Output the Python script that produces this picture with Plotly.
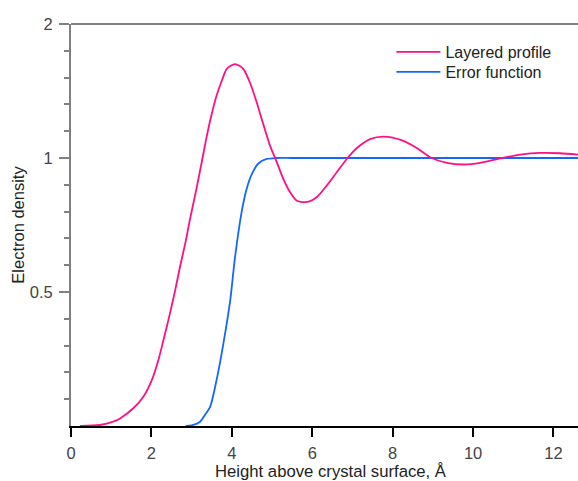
import numpy as np
import plotly.graph_objects as go

# Layered profile
layered_x = [0.22, 0.72, 1.05, 1.22, 1.55, 1.80, 2.01, 2.17, 2.30, 2.46, 2.59, 2.71, 2.84,
             2.96, 3.13, 3.25, 3.38, 3.50, 3.62, 3.75, 3.87, 3.97, 4.08, 4.19, 4.29, 4.45,
             4.62, 4.78, 4.95, 5.12, 5.28, 5.45, 5.61, 5.82, 5.95, 6.11, 6.36, 6.61, 6.86,
             7.11, 7.44, 7.77, 8.20, 8.60, 8.93, 9.35, 9.76, 10.18, 10.68, 11.18, 11.67,
             12.16, 12.61]
layered_y = [0.25, 0.2513, 0.2556, 0.260, 0.274, 0.291, 0.317, 0.351, 0.390, 0.447, 0.504,
             0.569, 0.642, 0.729, 0.861, 0.978, 1.123, 1.256, 1.380, 1.491, 1.584, 1.611,
             1.625, 1.611, 1.584, 1.478, 1.333, 1.193, 1.066, 0.978, 0.898, 0.838, 0.803,
             0.796, 0.800, 0.816, 0.867, 0.929, 0.995, 1.053, 1.103, 1.117, 1.098, 1.053,
             1.004, 0.975, 0.967, 0.975, 0.998, 1.018, 1.027, 1.025, 1.018]

# Error function profile
erf_x = [2.85, 3.0, 3.21, 3.33, 3.46, 3.62, 3.79, 3.96, 4.08, 4.25, 4.37, 4.50, 4.66, 4.87,
         5.12, 5.5, 12.61]
erf_y = [0.25, 0.2508, 0.2556, 0.2646, 0.276, 0.317, 0.383, 0.479, 0.599, 0.762, 0.853,
         0.921, 0.972, 0.995, 1.0, 1.0, 1.0]

y_tickvals = [0.5, 1, 2]
y_ticktext = ["0.5", "1", "2"]
x_tickvals = [0, 2, 4, 6, 8, 10, 12]

PINK = "#FF0F87"
BLUE = "#1466FF"
FONT = "Liberation Sans, Arial, sans-serif"

minor_vals = [2 * 2 ** (-k / 5) for k in range(1, 15) if k % 5 != 0]

fig = go.Figure()
fig.add_trace(go.Scatter(x=erf_x, y=erf_y, mode="lines", name="Error function",
                         line=dict(color=BLUE, width=1.8, shape="spline", smoothing=0.8),
                         legend="legend2"))
fig.add_trace(go.Scatter(x=layered_x, y=layered_y, mode="lines", name="Layered profile",
                         line=dict(color=PINK, width=1.8, shape="spline", smoothing=0.8),
                         legend="legend"))

leg_common = dict(xanchor="left", yanchor="top", bgcolor="rgba(0,0,0,0)",
                  font=dict(size=16, color="#222222"), itemwidth=44)

fig.update_layout(
    width=578, height=481,
    margin=dict(l=71, r=0, t=24, b=55),
    paper_bgcolor="white", plot_bgcolor="white",
    font=dict(family=FONT, size=16, color="#333333"),
    showlegend=True,
    legend=dict(x=0.632, y=0.9726, **leg_common),
    legend2=dict(x=0.632, y=0.9229, **leg_common),
    xaxis=dict(range=[0, 12.61], tickvals=x_tickvals, showgrid=False, zeroline=False,
               showline=True, linecolor="black", linewidth=1.5,
               ticks="outside", ticklen=9, tickwidth=1.5, tickcolor="black",
               tickfont=dict(size=16.5, color="#444444"), ticklabelstandoff=2),
    yaxis=dict(type="log", range=[np.log10(0.25), np.log10(2)], tickvals=y_tickvals,
               ticktext=y_ticktext, showgrid=False, zeroline=False,
               showline=True, linecolor="#808080", linewidth=2,
               ticks="outside", ticklen=10, tickwidth=2, tickcolor="#808080",
               tickfont=dict(size=16.5, color="#444444"), ticklabelstandoff=3,
               minor=dict(tickvals=minor_vals, ticks="outside", ticklen=5,
                          tickwidth=2, tickcolor="#808080", showgrid=False),
               title=dict(text="Electron density", standoff=1,
                          font=dict(size=16.5, color="#222222"))),
    shapes=[dict(type="line", xref="paper", yref="paper", x0=0, x1=1, y0=1, y1=1,
                 line=dict(color="#808080", width=2))],
    annotations=[dict(text="Height above crystal surface, Å", xref="paper", yref="paper",
                      x=0.513, y=-0.112, xanchor="center", yanchor="middle",
                      showarrow=False, font=dict(size=16.7, color="#222222"))],
)

fig.write_html("out.html")
